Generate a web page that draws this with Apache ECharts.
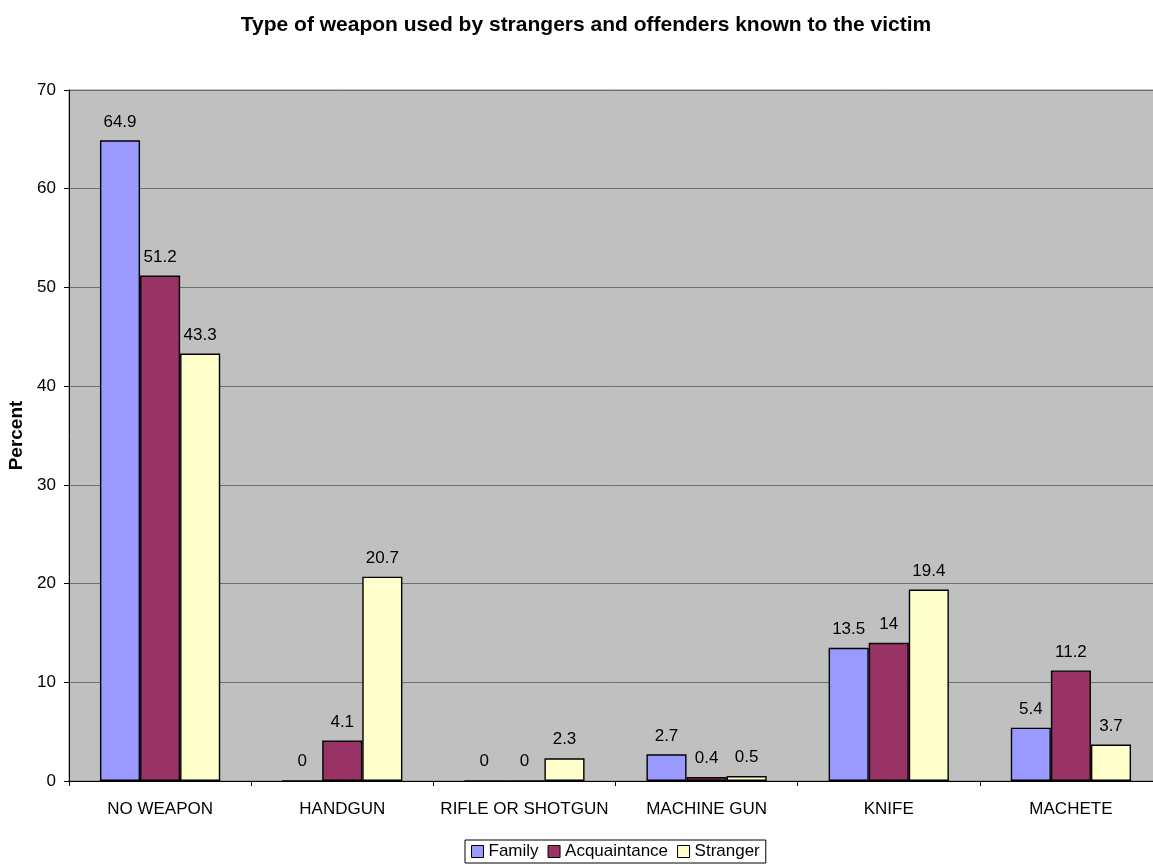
<!DOCTYPE html>
<html>
<head>
<meta charset="utf-8">
<script src="https://cdn.jsdelivr.net/npm/echarts@6/dist/echarts.min.js"></script>
<style>html,body{margin:0;padding:0;background:#fff}#c{width:1153px;height:867px}</style>
</head>
<body>
<div id="c"></div>
<script>
var categories = ['NO WEAPON', 'HANDGUN', 'RIFLE OR SHOTGUN', 'MACHINE GUN', 'KNIFE', 'MACHETE'];
var family = [64.9, 0, 0, 2.7, 13.5, 5.4];
var acquaintance = [51.2, 4.1, 0, 0.4, 14, 11.2];
var stranger = [43.3, 20.7, 2.3, 0.5, 19.4, 3.7];
var seriesNames = ['Family', 'Acquaintance', 'Stranger'];
var colors = ['#9999FF', '#993366', '#FFFFCC'];

var font = 'Liberation Sans, Arial, sans-serif';
var chart = echarts.init(document.getElementById('c'), null, {renderer: 'canvas'});
function mk(name, data, color) {
  return {
    name: name, type: 'bar', data: data,
    barGap: '0%', barCategoryGap: '34%',
    itemStyle: {color: color, borderColor: '#000', borderWidth: 1.4},
    label: {show: true, position: 'top', distance: 10, color: '#000', fontFamily: font, fontSize: 17},
    emphasis: {disabled: true}
  };
}
chart.setOption({
  animation: false,
  title: {
    text: 'Type of weapon used by strangers and offenders known to the victim',
    left: 581, top: 10, textAlign: 'center',
    textStyle: {fontFamily: font, fontSize: 21, fontWeight: 'bold', color: '#000'}
  },
  legend: {
    data: seriesNames, left: 465, top: 840,
    borderColor: '#000', borderWidth: 1, padding: [3, 6, 3, 6],
    itemWidth: 12, itemHeight: 12, itemGap: 9,
    icon: 'rect',
    itemStyle: {borderColor: '#000', borderWidth: 1},
    textStyle: {fontFamily: font, fontSize: 17, color: '#000'}
  },
  grid: {
    left: 69, top: 90, width: 1093, height: 691,
    outerBoundsMode: 'none', containLabel: false,
    show: true, backgroundColor: '#C0C0C0', borderColor: '#808080', borderWidth: 1
  },
  xAxis: {
    type: 'category', data: categories,
    axisLine: {lineStyle: {color: '#000', width: 1}},
    axisTick: {show: true, length: 5, interval: 0, lineStyle: {color: '#000'}},
    axisLabel: {color: '#000', fontFamily: font, fontSize: 17, margin: 20, interval: 0}
  },
  yAxis: {
    type: 'value', min: 0, max: 70, interval: 10,
    name: 'Percent', nameLocation: 'middle', nameGap: 42, nameRotate: 90,
    nameTextStyle: {fontFamily: font, fontSize: 19, fontWeight: 'bold', color: '#000'},
    axisLine: {show: true, lineStyle: {color: '#000', width: 1}},
    axisTick: {show: true, length: 5, lineStyle: {color: '#000'}},
    axisLabel: {color: '#000', fontFamily: font, fontSize: 17, margin: 13},
    splitLine: {show: true, lineStyle: {color: '#6e6e6e', width: 1}}
  },
  series: [mk(seriesNames[0], family, colors[0]), mk(seriesNames[1], acquaintance, colors[1]), mk(seriesNames[2], stranger, colors[2])]
});
</script>
</body>
</html>
